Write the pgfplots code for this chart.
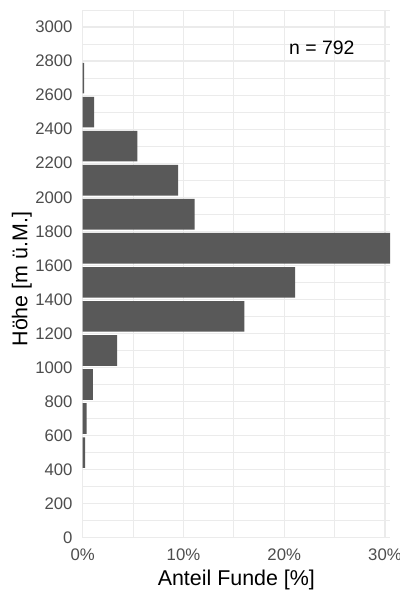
\documentclass[border=0pt]{standalone}
\usepackage{pgfplots}
\pgfplotsset{compat=1.18}
\usepackage{fontspec}
\setmainfont{Liberation Sans}
\definecolor{barfill}{HTML}{595959}
\definecolor{gridc}{HTML}{EBEBEB}
\definecolor{tickc}{HTML}{4D4D4D}
\begin{document}
\begin{tikzpicture}
\path[use as bounding box] (-82.7bp,-62.3bp) rectangle (317.3bp,537.7bp);
\begin{axis}[
  at={(0,0)}, anchor=south west,
  scale only axis, width=307.3bp, height=527.7bp,
  xmin=0, xmax=30.5, ymin=0, ymax=3100,
  xbar, bar width=180,
  xtick={0,10,20,30}, xticklabels={0\%,10\%,20\%,30\%},
  minor xtick={5,15,25},
  ytick={0,200,...,3000}, minor ytick={100,300,...,3100},
  grid=both,
  major grid style={gridc, line width=1.2bp},
  minor grid style={gridc, line width=0.7bp},
  axis line style={draw=none},
  major tick length=0pt, minor tick length=0pt,
  /pgf/number format/assume math mode=true,
  /pgf/number format/set thousands separator={},
  tick label style={font=\fontsize{16.8}{20}\selectfont, text=tickc},
  yticklabel style={anchor=east, inner sep=0pt, xshift=-10bp},
  xticklabel style={anchor=base, inner sep=0pt, yshift=-23bp},
  xlabel={Anteil Funde [\%]}, ylabel={Höhe [m ü.M.]},
  label style={font=\fontsize{21.5}{25}\selectfont, inner sep=0pt},
  xlabel style={at={(axis description cs:0.5,-0.091)}, anchor=base},
  ylabel style={at={(axis description cs:-0.180,0.49)}, anchor=base},
]
\addplot[fill=barfill, draw=none] coordinates {
  (0.25,500) (0.38,700) (1.01,900) (3.41,1100) (16.04,1300) (21.09,1500)
  (30.56,1700) (11.11,1900) (9.47,2100) (5.43,2300) (1.14,2500) (0.13,2700)
};
\node[anchor=base, font=\fontsize{19.5}{23}\selectfont] at (axis cs:23.74,2839) {n = 792};
\end{axis}
\end{tikzpicture}
\end{document}
